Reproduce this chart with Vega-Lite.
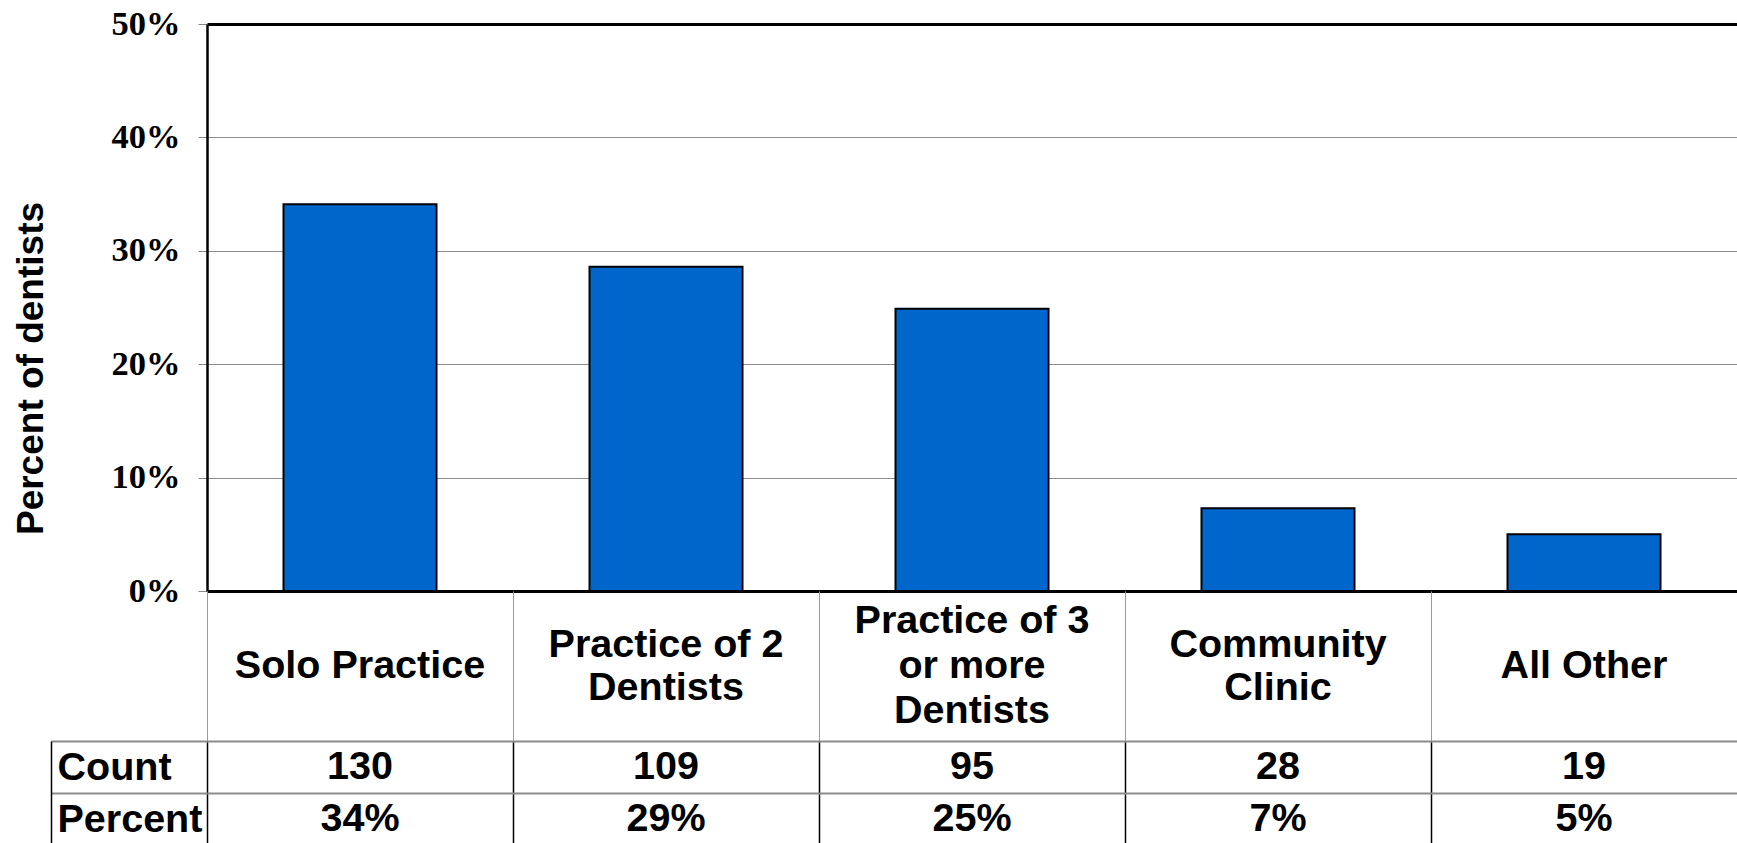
{
  "$schema": "https://vega.github.io/schema/vega-lite/v6.json",
  "padding": {"left": 12, "top": 6, "right": 0, "bottom": 0},
  "spacing": 0,
  "bounds": "flush",
  "background": "white",
  "config": {
    "view": {"stroke": null},
    "axis": {"labelFlush": false}
  },
  "datasets": {
    "cats": [
      {"category": "Solo Practice", "label": ["Solo Practice"], "count": 130, "share": 0.341},
      {"category": "Practice of 2 Dentists", "label": ["Practice of 2", "Dentists"], "count": 109, "share": 0.286},
      {"category": "Practice of 3 or more Dentists", "label": ["Practice of 3", "or more", "Dentists"], "count": 95, "share": 0.249},
      {"category": "Community Clinic", "label": ["Community", "Clinic"], "count": 28, "share": 0.073},
      {"category": "All Other", "label": ["All Other"], "count": 19, "share": 0.05}
    ]
  },
  "vconcat": [
    {
      "width": 1530,
      "height": 567,
      "data": {"name": "cats"},
      "mark": {"type": "bar", "width": {"band": 0.5}, "color": "#0066CC", "stroke": "#000000", "strokeWidth": 2},
      "encoding": {
        "x": {"field": "category", "type": "nominal", "sort": null,
              "scale": {"type": "band", "domain": ["Solo Practice", "Practice of 2 Dentists", "Practice of 3 or more Dentists", "Community Clinic", "All Other"], "paddingInner": 0, "paddingOuter": 0}, "axis": null},
        "y": {"field": "share", "type": "quantitative",
              "scale": {"domain": [0, 0.5], "nice": false},
              "axis": {
                "title": "Percent of dentists",
                "titleFont": "Liberation Sans", "titleFontSize": 37, "titleFontWeight": "bold", "titleColor": "#000000",
                "titleX": -165, "titleY": 344, "titleAngle": -90, "titleAlign": "center", "titleBaseline": "alphabetic",
                "values": [0, 0.1, 0.2, 0.3, 0.4, 0.5],
                "format": ".0%",
                "labelFont": "Liberation Serif", "labelFontSize": 34.5, "labelFontWeight": "bold", "labelColor": "#000000",
                "labelPadding": 18,
                "tickSize": 9, "tickColor": "#888888", "tickWidth": 1,
                "domainColor": "#000000", "domainWidth": 2.5,
                "grid": true,
                "gridColor": {"condition": {"test": "datum.value === 0 || datum.value === 0.5", "value": "#000000"}, "value": "#8c8c8c"},
                "gridWidth": {"condition": {"test": "datum.value === 0 || datum.value === 0.5", "value": 3}, "value": 1}
              }}
      }
    },
    {
      "width": 1530,
      "height": 150,
      "data": {"name": "cats"},
      "encoding": {
        "x": {"field": "category", "type": "nominal", "sort": null,
              "scale": {"type": "band", "domain": ["Solo Practice", "Practice of 2 Dentists", "Practice of 3 or more Dentists", "Community Clinic", "All Other"], "paddingInner": 0, "paddingOuter": 0},
              "axis": {"title": null, "labels": false, "ticks": false, "domain": false, "grid": true, "bandPosition": 0, "gridColor": "#9a9a9a", "gridWidth": 1}},
        "text": {"field": "label"}
      },
      "layer": [
        {
          "transform": [{"filter": "length(datum.label) == 1"}],
          "mark": {"type": "text", "font": "Liberation Sans", "fontSize": 39.5, "fontWeight": "bold", "lineHeight": 45, "baseline": "middle", "align": "center", "color": "#000000"}
        },
        {
          "transform": [{"filter": "length(datum.label) == 2"}],
          "mark": {"type": "text", "font": "Liberation Sans", "fontSize": 39.5, "fontWeight": "bold", "lineHeight": 43, "baseline": "middle", "align": "center", "color": "#000000", "dy": -21.5}
        },
        {
          "transform": [{"filter": "length(datum.label) == 3"}],
          "mark": {"type": "text", "font": "Liberation Sans", "fontSize": 39.5, "fontWeight": "bold", "lineHeight": 45, "baseline": "middle", "align": "center", "color": "#000000", "dy": -45}
        }
      ]
    },
    {
      "width": 1530,
      "height": 104,
      "data": {"name": "cats"},
      "encoding": {
        "x": {"field": "category", "type": "nominal", "sort": null,
              "scale": {"type": "band", "domain": ["Solo Practice", "Practice of 2 Dentists", "Practice of 3 or more Dentists", "Community Clinic", "All Other"], "paddingInner": 0, "paddingOuter": 0},
              "axis": {"title": null, "labels": false, "ticks": false, "domain": false, "grid": true, "bandPosition": 0, "gridColor": "#000000", "gridWidth": 1.5}}
      },
      "layer": [
        {
          "mark": {"type": "text", "font": "Liberation Sans", "fontSize": 39.5, "fontWeight": "bold", "baseline": "middle", "align": "center", "color": "#000000"},
          "encoding": {
            "y": {"datum": "Count", "type": "nominal",
                  "scale": {"type": "band", "domain": ["Count", "Percent"], "paddingInner": 0, "paddingOuter": 0},
                  "axis": {
                    "title": null, "orient": "left", "offset": 156,
                    "tickBand": "extent", "tickSize": -156, "tickColor": "#8c8c8c", "tickWidth": 2,
                    "domainColor": "#000000", "domainWidth": 1.5,
                    "labelAlign": "left", "labelBaseline": "middle", "labelPadding": 150,
                    "labelFont": "Liberation Sans", "labelFontSize": 39.5, "labelFontWeight": "bold", "labelColor": "#000000",
                    "grid": true, "gridColor": "#8c8c8c", "gridWidth": 2
                  }},
            "text": {"field": "count", "type": "quantitative"}
          }
        },
        {
          "mark": {"type": "text", "font": "Liberation Sans", "fontSize": 39.5, "fontWeight": "bold", "baseline": "middle", "align": "center", "color": "#000000"},
          "encoding": {
            "y": {"datum": "Percent", "type": "nominal"},
            "text": {"field": "share", "type": "quantitative", "format": ".0%"}
          }
        }
      ]
    }
  ]
}
